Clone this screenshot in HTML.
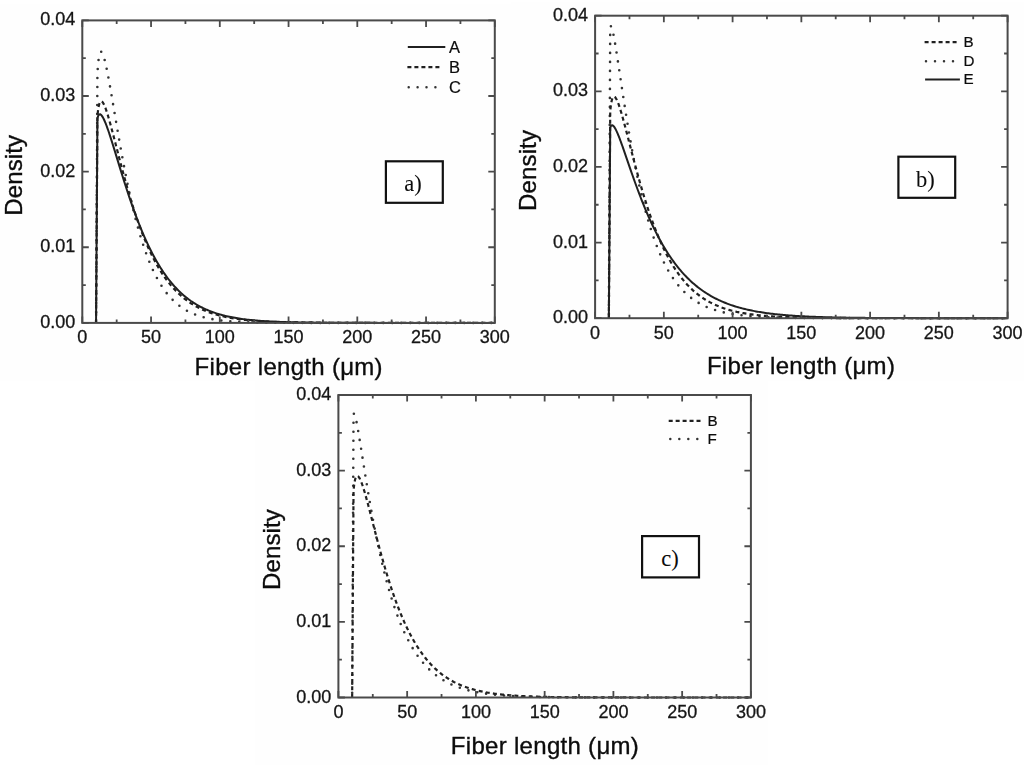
<!DOCTYPE html>
<html><head><meta charset="utf-8"><style>
html,body{margin:0;padding:0;background:#fff;}
svg{display:block;filter:blur(0.35px);}
text{font-family:"Liberation Sans",sans-serif;fill:#0c0c0c;stroke:#0c0c0c;stroke-width:0.35px;}
.tl{font-size:18px;fill:#151515;stroke:#151515;stroke-width:0.3px;}
.tt{font-size:24px;}
.tt2{font-size:24px;}
.bt{font-family:"Liberation Serif",serif;font-size:22.5px;stroke-width:0.05px;}
</style></head><body>
<svg width="1024" height="765" viewBox="0 0 1024 765">
<rect x="0" y="4" width="511" height="377" fill="#fefefe"/>
<rect x="511" y="2" width="513" height="379" fill="#fefefe"/>
<rect x="255" y="381" width="513" height="384" fill="#fefefe"/>
<path d="M 96.05,322.90 L 97.42,73.49 L 97.77,68.10 L 98.11,63.91 L 98.46,60.62 L 98.80,58.04 L 99.14,56.03 L 99.49,54.50 L 99.83,53.36 L 100.17,52.56 L 100.52,52.06 L 100.86,51.82 L 101.21,51.80 L 101.55,51.98 L 101.89,52.34 L 102.24,52.86 L 102.58,53.52 L 102.92,54.31 L 103.27,55.22 L 103.61,56.24 L 103.96,57.36 L 104.30,58.56 L 104.64,59.84 L 104.99,61.20 L 105.33,62.63 L 105.67,64.11 L 106.02,65.66 L 106.36,67.25 L 106.71,68.90 L 107.05,70.58 L 107.39,72.31 L 107.74,74.07 L 108.08,75.86 L 108.42,77.69 L 108.77,79.54 L 109.11,81.42 L 109.46,83.32 L 109.80,85.23 L 111.17,93.07 L 112.55,101.08 L 113.92,109.17 L 115.30,117.28 L 116.67,125.35 L 118.05,133.33 L 119.42,141.19 L 120.80,148.90 L 122.17,156.44 L 123.55,163.79 L 124.92,170.93 L 126.30,177.87 L 127.67,184.58 L 129.05,191.08 L 130.43,197.34 L 131.80,203.38 L 133.18,209.20 L 134.55,214.79 L 135.93,220.15 L 137.30,225.30 L 138.68,230.23 L 140.05,234.96 L 141.43,239.48 L 142.80,243.80 L 144.18,247.92 L 145.55,251.86 L 146.93,255.62 L 148.30,259.20 L 149.68,262.61 L 151.05,265.86 L 152.43,268.95 L 153.80,271.89 L 155.18,274.69 L 156.55,277.35 L 157.93,279.87 L 159.30,282.26 L 160.68,284.53 L 162.05,286.69 L 163.43,288.73 L 164.80,290.67 L 166.18,292.50 L 167.55,294.24 L 168.93,295.88 L 170.30,297.44 L 171.68,298.91 L 173.05,300.30 L 174.43,301.62 L 175.80,302.86 L 177.18,304.04 L 178.55,305.15 L 179.93,306.20 L 181.30,307.19 L 182.68,308.12 L 184.05,309.00 L 185.43,309.83 L 186.80,310.62 L 188.18,311.36 L 189.55,312.05 L 190.92,312.71 L 192.30,313.33 L 193.68,313.91 L 195.05,314.46 L 196.43,314.98 L 197.80,315.46 L 199.18,315.92 L 200.55,316.35 L 201.92,316.76 L 203.30,317.14 L 204.68,317.49 L 206.05,317.83 L 207.43,318.15 L 208.80,318.44 L 210.18,318.72 L 211.55,318.99 L 212.93,319.23 L 214.30,319.46 L 215.68,319.68 L 217.05,319.89 L 218.43,320.08 L 219.80,320.26 L 221.18,320.42 L 222.55,320.58 L 223.93,320.73 L 225.30,320.87 L 226.68,321.00 L 228.05,321.12 L 229.43,321.24 L 230.80,321.35 L 232.18,321.45 L 233.55,321.54 L 234.93,321.63 L 236.30,321.71 L 237.68,321.79 L 239.05,321.86 L 240.43,321.93 L 241.80,321.99 L 243.18,322.05 L 244.55,322.11 L 245.93,322.16 L 247.30,322.21 L 248.68,322.25 L 250.05,322.30 L 251.43,322.34 L 252.80,322.37 L 254.18,322.41 L 255.55,322.44 L 256.93,322.47 L 258.30,322.50 L 259.68,322.53 L 261.05,322.55 L 262.43,322.58 L 263.80,322.60 L 265.18,322.62 L 266.55,322.64 L 267.93,322.66 L 269.30,322.67 L 270.68,322.69 L 272.05,322.70 L 273.43,322.71 L 274.80,322.73 L 276.18,322.74 L 277.55,322.75 L 278.93,322.76 L 280.30,322.77 L 281.68,322.78 L 283.05,322.79 L 284.43,322.79 L 285.80,322.80 L 287.18,322.81 L 288.55,322.82 L 289.93,322.82 L 291.30,322.83 L 292.68,322.83 L 294.05,322.84 L 295.43,322.84 L 296.80,322.84 L 298.18,322.85 L 299.55,322.85 L 300.93,322.86 L 302.30,322.86 L 303.67,322.86 L 305.05,322.86 L 306.43,322.87 L 307.80,322.87 L 309.18,322.87 L 310.55,322.87 L 311.93,322.88 L 313.30,322.88 L 314.68,322.88 L 316.05,322.88 L 317.42,322.88 L 318.80,322.88 L 320.18,322.88 L 321.55,322.89 L 322.93,322.89 L 324.30,322.89 L 325.68,322.89 L 327.05,322.89 L 328.43,322.89 L 329.80,322.89 L 331.18,322.89 L 332.55,322.89 L 333.93,322.89 L 335.30,322.89 L 336.68,322.89 L 338.05,322.89 L 339.43,322.89 L 340.80,322.89 L 342.18,322.90 L 343.55,322.90 L 344.93,322.90 L 346.30,322.90 L 347.68,322.90 L 349.05,322.90 L 350.43,322.90 L 351.80,322.90 L 353.18,322.90 L 354.55,322.90 L 355.93,322.90 L 357.30,322.90 L 358.68,322.90 L 360.05,322.90 L 361.43,322.90 L 362.80,322.90 L 364.18,322.90 L 365.55,322.90 L 366.93,322.90 L 368.30,322.90 L 369.68,322.90 L 371.05,322.90 L 372.43,322.90 L 373.80,322.90 L 375.18,322.90 L 376.55,322.90 L 377.93,322.90 L 379.30,322.90 L 380.68,322.90 L 382.05,322.90 L 383.43,322.90 L 384.80,322.90 L 386.18,322.90 L 387.55,322.90 L 388.93,322.90 L 390.30,322.90 L 391.68,322.90 L 393.05,322.90 L 394.43,322.90 L 395.80,322.90 L 397.18,322.90 L 398.55,322.90 L 399.93,322.90 L 401.30,322.90 L 402.68,322.90 L 404.05,322.90 L 405.43,322.90 L 406.80,322.90 L 408.18,322.90 L 409.55,322.90 L 410.93,322.90 L 412.30,322.90 L 413.68,322.90 L 415.05,322.90 L 416.43,322.90 L 417.80,322.90 L 419.18,322.90 L 420.55,322.90 L 421.93,322.90 L 423.30,322.90 L 424.68,322.90 L 426.05,322.90 L 427.43,322.90 L 428.80,322.90 L 430.18,322.90 L 431.55,322.90 L 432.93,322.90 L 434.30,322.90 L 435.68,322.90 L 437.05,322.90 L 438.43,322.90 L 439.80,322.90 L 441.18,322.90 L 442.55,322.90 L 443.93,322.90 L 445.30,322.90 L 446.68,322.90 L 448.05,322.90 L 449.43,322.90 L 450.80,322.90 L 452.18,322.90 L 453.55,322.90 L 454.93,322.90 L 456.30,322.90 L 457.68,322.90 L 459.05,322.90 L 460.43,322.90 L 461.80,322.90 L 463.18,322.90 L 464.55,322.90 L 465.93,322.90 L 467.30,322.90 L 468.68,322.90 L 470.05,322.90 L 471.43,322.90 L 472.80,322.90 L 474.18,322.90 L 475.55,322.90 L 476.93,322.90 L 478.30,322.90 L 479.68,322.90 L 481.05,322.90 L 482.43,322.90 L 483.80,322.90 L 485.18,322.90 L 486.55,322.90 L 487.93,322.90 L 489.30,322.90 L 490.68,322.90 L 492.05,322.90 L 493.43,322.90 L 494.80,322.90" fill="none" stroke="#333" stroke-width="2.6" stroke-dasharray="0 9" stroke-linecap="round" stroke-dashoffset="-1.97"/>
<path d="M 96.05,322.90 L 97.42,116.62 L 97.77,112.85 L 98.11,109.94 L 98.46,107.67 L 98.80,105.88 L 99.14,104.48 L 99.49,103.40 L 99.83,102.59 L 100.17,102.01 L 100.52,101.62 L 100.86,101.40 L 101.21,101.33 L 101.55,101.40 L 101.89,101.58 L 102.24,101.86 L 102.58,102.24 L 102.92,102.71 L 103.27,103.25 L 103.61,103.86 L 103.96,104.53 L 104.30,105.27 L 104.64,106.05 L 104.99,106.89 L 105.33,107.77 L 105.67,108.69 L 106.02,109.65 L 106.36,110.64 L 106.71,111.67 L 107.05,112.72 L 107.39,113.81 L 107.74,114.91 L 108.08,116.05 L 108.42,117.20 L 108.77,118.37 L 109.11,119.56 L 109.46,120.77 L 109.80,121.99 L 111.17,127.01 L 112.55,132.18 L 113.92,137.45 L 115.30,142.78 L 116.67,148.13 L 118.05,153.46 L 119.42,158.77 L 120.80,164.03 L 122.17,169.22 L 123.55,174.34 L 124.92,179.36 L 126.30,184.30 L 127.67,189.12 L 129.05,193.84 L 130.43,198.45 L 131.80,202.95 L 133.18,207.32 L 134.55,211.58 L 135.93,215.72 L 137.30,219.74 L 138.68,223.64 L 140.05,227.42 L 141.43,231.09 L 142.80,234.64 L 144.18,238.08 L 145.55,241.40 L 146.93,244.61 L 148.30,247.72 L 149.68,250.72 L 151.05,253.61 L 152.43,256.41 L 153.80,259.10 L 155.18,261.70 L 156.55,264.20 L 157.93,266.62 L 159.30,268.94 L 160.68,271.18 L 162.05,273.33 L 163.43,275.40 L 164.80,277.39 L 166.18,279.31 L 167.55,281.15 L 168.93,282.93 L 170.30,284.63 L 171.68,286.26 L 173.05,287.83 L 174.43,289.34 L 175.80,290.79 L 177.18,292.18 L 178.55,293.51 L 179.93,294.79 L 181.30,296.02 L 182.68,297.20 L 184.05,298.33 L 185.43,299.41 L 186.80,300.45 L 188.18,301.44 L 189.55,302.39 L 190.92,303.30 L 192.30,304.18 L 193.68,305.02 L 195.05,305.82 L 196.43,306.58 L 197.80,307.32 L 199.18,308.02 L 200.55,308.69 L 201.92,309.34 L 203.30,309.95 L 204.68,310.54 L 206.05,311.11 L 207.43,311.65 L 208.80,312.16 L 210.18,312.65 L 211.55,313.13 L 212.93,313.58 L 214.30,314.01 L 215.68,314.42 L 217.05,314.81 L 218.43,315.18 L 219.80,315.54 L 221.18,315.89 L 222.55,316.21 L 223.93,316.53 L 225.30,316.82 L 226.68,317.11 L 228.05,317.38 L 229.43,317.64 L 230.80,317.89 L 232.18,318.12 L 233.55,318.35 L 234.93,318.57 L 236.30,318.77 L 237.68,318.97 L 239.05,319.15 L 240.43,319.33 L 241.80,319.50 L 243.18,319.66 L 244.55,319.82 L 245.93,319.97 L 247.30,320.11 L 248.68,320.24 L 250.05,320.37 L 251.43,320.49 L 252.80,320.61 L 254.18,320.72 L 255.55,320.82 L 256.93,320.92 L 258.30,321.02 L 259.68,321.11 L 261.05,321.20 L 262.43,321.28 L 263.80,321.36 L 265.18,321.43 L 266.55,321.51 L 267.93,321.57 L 269.30,321.64 L 270.68,321.70 L 272.05,321.76 L 273.43,321.82 L 274.80,321.87 L 276.18,321.92 L 277.55,321.97 L 278.93,322.01 L 280.30,322.06 L 281.68,322.10 L 283.05,322.14 L 284.43,322.18 L 285.80,322.21 L 287.18,322.25 L 288.55,322.28 L 289.93,322.31 L 291.30,322.34 L 292.68,322.37 L 294.05,322.39 L 295.43,322.42 L 296.80,322.44 L 298.18,322.47 L 299.55,322.49 L 300.93,322.51 L 302.30,322.53 L 303.67,322.55 L 305.05,322.56 L 306.43,322.58 L 307.80,322.60 L 309.18,322.61 L 310.55,322.63 L 311.93,322.64 L 313.30,322.65 L 314.68,322.67 L 316.05,322.68 L 317.42,322.69 L 318.80,322.70 L 320.18,322.71 L 321.55,322.72 L 322.93,322.73 L 324.30,322.74 L 325.68,322.75 L 327.05,322.75 L 328.43,322.76 L 329.80,322.77 L 331.18,322.78 L 332.55,322.78 L 333.93,322.79 L 335.30,322.79 L 336.68,322.80 L 338.05,322.80 L 339.43,322.81 L 340.80,322.81 L 342.18,322.82 L 343.55,322.82 L 344.93,322.83 L 346.30,322.83 L 347.68,322.83 L 349.05,322.84 L 350.43,322.84 L 351.80,322.84 L 353.18,322.85 L 354.55,322.85 L 355.93,322.85 L 357.30,322.85 L 358.68,322.86 L 360.05,322.86 L 361.43,322.86 L 362.80,322.86 L 364.18,322.87 L 365.55,322.87 L 366.93,322.87 L 368.30,322.87 L 369.68,322.87 L 371.05,322.87 L 372.43,322.87 L 373.80,322.88 L 375.18,322.88 L 376.55,322.88 L 377.93,322.88 L 379.30,322.88 L 380.68,322.88 L 382.05,322.88 L 383.43,322.88 L 384.80,322.88 L 386.18,322.89 L 387.55,322.89 L 388.93,322.89 L 390.30,322.89 L 391.68,322.89 L 393.05,322.89 L 394.43,322.89 L 395.80,322.89 L 397.18,322.89 L 398.55,322.89 L 399.93,322.89 L 401.30,322.89 L 402.68,322.89 L 404.05,322.89 L 405.43,322.89 L 406.80,322.89 L 408.18,322.89 L 409.55,322.89 L 410.93,322.89 L 412.30,322.89 L 413.68,322.90 L 415.05,322.90 L 416.43,322.90 L 417.80,322.90 L 419.18,322.90 L 420.55,322.90 L 421.93,322.90 L 423.30,322.90 L 424.68,322.90 L 426.05,322.90 L 427.43,322.90 L 428.80,322.90 L 430.18,322.90 L 431.55,322.90 L 432.93,322.90 L 434.30,322.90 L 435.68,322.90 L 437.05,322.90 L 438.43,322.90 L 439.80,322.90 L 441.18,322.90 L 442.55,322.90 L 443.93,322.90 L 445.30,322.90 L 446.68,322.90 L 448.05,322.90 L 449.43,322.90 L 450.80,322.90 L 452.18,322.90 L 453.55,322.90 L 454.93,322.90 L 456.30,322.90 L 457.68,322.90 L 459.05,322.90 L 460.43,322.90 L 461.80,322.90 L 463.18,322.90 L 464.55,322.90 L 465.93,322.90 L 467.30,322.90 L 468.68,322.90 L 470.05,322.90 L 471.43,322.90 L 472.80,322.90 L 474.18,322.90 L 475.55,322.90 L 476.93,322.90 L 478.30,322.90 L 479.68,322.90 L 481.05,322.90 L 482.43,322.90 L 483.80,322.90 L 485.18,322.90 L 486.55,322.90 L 487.93,322.90 L 489.30,322.90 L 490.68,322.90 L 492.05,322.90 L 493.43,322.90 L 494.80,322.90" fill="none" stroke="#202020" stroke-width="2.2" stroke-dasharray="4 3.2"/>
<path d="M 96.05,322.90 L 97.42,118.58 L 97.77,117.21 L 98.11,116.19 L 98.46,115.44 L 98.80,114.91 L 99.14,114.56 L 99.49,114.36 L 99.83,114.29 L 100.17,114.34 L 100.52,114.48 L 100.86,114.71 L 101.21,115.02 L 101.55,115.40 L 101.89,115.83 L 102.24,116.33 L 102.58,116.88 L 102.92,117.47 L 103.27,118.10 L 103.61,118.78 L 103.96,119.49 L 104.30,120.23 L 104.64,121.01 L 104.99,121.81 L 105.33,122.64 L 105.67,123.49 L 106.02,124.37 L 106.36,125.27 L 106.71,126.18 L 107.05,127.12 L 107.39,128.07 L 107.74,129.04 L 108.08,130.02 L 108.42,131.01 L 108.77,132.02 L 109.11,133.04 L 109.46,134.07 L 109.80,135.11 L 111.17,139.36 L 112.55,143.72 L 113.92,148.15 L 115.30,152.62 L 116.67,157.12 L 118.05,161.63 L 119.42,166.12 L 120.80,170.59 L 122.17,175.03 L 123.55,179.41 L 124.92,183.75 L 126.30,188.02 L 127.67,192.22 L 129.05,196.35 L 130.43,200.41 L 131.80,204.39 L 133.18,208.28 L 134.55,212.09 L 135.93,215.82 L 137.30,219.46 L 138.68,223.00 L 140.05,226.46 L 141.43,229.83 L 142.80,233.12 L 144.18,236.31 L 145.55,239.41 L 146.93,242.43 L 148.30,245.36 L 149.68,248.20 L 151.05,250.96 L 152.43,253.64 L 153.80,256.23 L 155.18,258.74 L 156.55,261.18 L 157.93,263.53 L 159.30,265.81 L 160.68,268.01 L 162.05,270.14 L 163.43,272.20 L 164.80,274.19 L 166.18,276.11 L 167.55,277.97 L 168.93,279.76 L 170.30,281.49 L 171.68,283.15 L 173.05,284.76 L 174.43,286.31 L 175.80,287.80 L 177.18,289.24 L 178.55,290.62 L 179.93,291.96 L 181.30,293.24 L 182.68,294.47 L 184.05,295.66 L 185.43,296.81 L 186.80,297.91 L 188.18,298.96 L 189.55,299.98 L 190.92,300.96 L 192.30,301.90 L 193.68,302.80 L 195.05,303.66 L 196.43,304.49 L 197.80,305.29 L 199.18,306.06 L 200.55,306.79 L 201.92,307.50 L 203.30,308.18 L 204.68,308.82 L 206.05,309.45 L 207.43,310.04 L 208.80,310.61 L 210.18,311.16 L 211.55,311.69 L 212.93,312.19 L 214.30,312.67 L 215.68,313.13 L 217.05,313.58 L 218.43,314.00 L 219.80,314.40 L 221.18,314.79 L 222.55,315.16 L 223.93,315.52 L 225.30,315.86 L 226.68,316.18 L 228.05,316.49 L 229.43,316.79 L 230.80,317.07 L 232.18,317.34 L 233.55,317.60 L 234.93,317.85 L 236.30,318.09 L 237.68,318.31 L 239.05,318.53 L 240.43,318.73 L 241.80,318.93 L 243.18,319.12 L 244.55,319.30 L 245.93,319.47 L 247.30,319.63 L 248.68,319.79 L 250.05,319.94 L 251.43,320.08 L 252.80,320.22 L 254.18,320.35 L 255.55,320.47 L 256.93,320.59 L 258.30,320.70 L 259.68,320.81 L 261.05,320.91 L 262.43,321.01 L 263.80,321.10 L 265.18,321.19 L 266.55,321.27 L 267.93,321.35 L 269.30,321.43 L 270.68,321.50 L 272.05,321.57 L 273.43,321.63 L 274.80,321.70 L 276.18,321.76 L 277.55,321.81 L 278.93,321.87 L 280.30,321.92 L 281.68,321.97 L 283.05,322.02 L 284.43,322.06 L 285.80,322.10 L 287.18,322.14 L 288.55,322.18 L 289.93,322.22 L 291.30,322.25 L 292.68,322.28 L 294.05,322.32 L 295.43,322.35 L 296.80,322.37 L 298.18,322.40 L 299.55,322.43 L 300.93,322.45 L 302.30,322.47 L 303.67,322.50 L 305.05,322.52 L 306.43,322.54 L 307.80,322.55 L 309.18,322.57 L 310.55,322.59 L 311.93,322.61 L 313.30,322.62 L 314.68,322.64 L 316.05,322.65 L 317.42,322.66 L 318.80,322.67 L 320.18,322.69 L 321.55,322.70 L 322.93,322.71 L 324.30,322.72 L 325.68,322.73 L 327.05,322.74 L 328.43,322.75 L 329.80,322.75 L 331.18,322.76 L 332.55,322.77 L 333.93,322.78 L 335.30,322.78 L 336.68,322.79 L 338.05,322.79 L 339.43,322.80 L 340.80,322.81 L 342.18,322.81 L 343.55,322.82 L 344.93,322.82 L 346.30,322.82 L 347.68,322.83 L 349.05,322.83 L 350.43,322.84 L 351.80,322.84 L 353.18,322.84 L 354.55,322.85 L 355.93,322.85 L 357.30,322.85 L 358.68,322.85 L 360.05,322.86 L 361.43,322.86 L 362.80,322.86 L 364.18,322.86 L 365.55,322.87 L 366.93,322.87 L 368.30,322.87 L 369.68,322.87 L 371.05,322.87 L 372.43,322.87 L 373.80,322.88 L 375.18,322.88 L 376.55,322.88 L 377.93,322.88 L 379.30,322.88 L 380.68,322.88 L 382.05,322.88 L 383.43,322.88 L 384.80,322.88 L 386.18,322.89 L 387.55,322.89 L 388.93,322.89 L 390.30,322.89 L 391.68,322.89 L 393.05,322.89 L 394.43,322.89 L 395.80,322.89 L 397.18,322.89 L 398.55,322.89 L 399.93,322.89 L 401.30,322.89 L 402.68,322.89 L 404.05,322.89 L 405.43,322.89 L 406.80,322.89 L 408.18,322.89 L 409.55,322.89 L 410.93,322.89 L 412.30,322.90 L 413.68,322.90 L 415.05,322.90 L 416.43,322.90 L 417.80,322.90 L 419.18,322.90 L 420.55,322.90 L 421.93,322.90 L 423.30,322.90 L 424.68,322.90 L 426.05,322.90 L 427.43,322.90 L 428.80,322.90 L 430.18,322.90 L 431.55,322.90 L 432.93,322.90 L 434.30,322.90 L 435.68,322.90 L 437.05,322.90 L 438.43,322.90 L 439.80,322.90 L 441.18,322.90 L 442.55,322.90 L 443.93,322.90 L 445.30,322.90 L 446.68,322.90 L 448.05,322.90 L 449.43,322.90 L 450.80,322.90 L 452.18,322.90 L 453.55,322.90 L 454.93,322.90 L 456.30,322.90 L 457.68,322.90 L 459.05,322.90 L 460.43,322.90 L 461.80,322.90 L 463.18,322.90 L 464.55,322.90 L 465.93,322.90 L 467.30,322.90 L 468.68,322.90 L 470.05,322.90 L 471.43,322.90 L 472.80,322.90 L 474.18,322.90 L 475.55,322.90 L 476.93,322.90 L 478.30,322.90 L 479.68,322.90 L 481.05,322.90 L 482.43,322.90 L 483.80,322.90 L 485.18,322.90 L 486.55,322.90 L 487.93,322.90 L 489.30,322.90 L 490.68,322.90 L 492.05,322.90 L 493.43,322.90 L 494.80,322.90" fill="none" stroke="#202020" stroke-width="2"/>
<path d="M82.30,322.90v-6.5M82.30,20.40v6.5M116.67,322.90v-3.5M116.67,20.40v3.5M151.05,322.90v-6.5M151.05,20.40v6.5M185.43,322.90v-3.5M185.43,20.40v3.5M219.80,322.90v-6.5M219.80,20.40v6.5M254.18,322.90v-3.5M254.18,20.40v3.5M288.55,322.90v-6.5M288.55,20.40v6.5M322.93,322.90v-3.5M322.93,20.40v3.5M357.30,322.90v-6.5M357.30,20.40v6.5M391.68,322.90v-3.5M391.68,20.40v3.5M426.05,322.90v-6.5M426.05,20.40v6.5M460.43,322.90v-3.5M460.43,20.40v3.5M494.80,322.90v-6.5M494.80,20.40v6.5M82.30,322.90h6.5M494.80,322.90h-6.5M82.30,285.09h3.5M494.80,285.09h-3.5M82.30,247.27h6.5M494.80,247.27h-6.5M82.30,209.46h3.5M494.80,209.46h-3.5M82.30,171.65h6.5M494.80,171.65h-6.5M82.30,133.84h3.5M494.80,133.84h-3.5M82.30,96.02h6.5M494.80,96.02h-6.5M82.30,58.21h3.5M494.80,58.21h-3.5M82.30,20.40h6.5M494.80,20.40h-6.5" stroke="#4a4a4a" stroke-width="1.8" fill="none"/>
<rect x="82.30" y="20.40" width="412.50" height="302.50" fill="none" stroke="#4a4a4a" stroke-width="2"/>
<text x="75.30" y="327.90" class="tl" text-anchor="end">0.00</text>
<text x="75.30" y="252.27" class="tl" text-anchor="end">0.01</text>
<text x="75.30" y="176.65" class="tl" text-anchor="end">0.02</text>
<text x="75.30" y="101.02" class="tl" text-anchor="end">0.03</text>
<text x="75.30" y="25.40" class="tl" text-anchor="end">0.04</text>
<text x="82.30" y="343.40" class="tl" text-anchor="middle">0</text>
<text x="151.05" y="343.40" class="tl" text-anchor="middle">50</text>
<text x="219.80" y="343.40" class="tl" text-anchor="middle">100</text>
<text x="288.55" y="343.40" class="tl" text-anchor="middle">150</text>
<text x="357.30" y="343.40" class="tl" text-anchor="middle">200</text>
<text x="426.05" y="343.40" class="tl" text-anchor="middle">250</text>
<text x="494.80" y="343.40" class="tl" text-anchor="middle">300</text>
<path d="M407.80,46.90H445.30" stroke="#202020" stroke-width="2"/>
<text x="449.00" y="52.50" style="font-size:16.5px;stroke-width:0.2px">A</text>
<path d="M407.40,67.10H439.40" stroke="#202020" stroke-width="2.2" stroke-dasharray="4 3.00"/>
<text x="449.00" y="72.70" style="font-size:16.5px;stroke-width:0.2px">B</text>
<path d="M408.70,87.20H435.41" stroke="#333" stroke-width="2.5" stroke-dasharray="0 8.9" stroke-linecap="round"/>
<text x="449.00" y="92.80" style="font-size:16.5px;stroke-width:0.2px">C</text>
<text x="288.60" y="375.00" class="tt" text-anchor="middle" textLength="188.0" lengthAdjust="spacing">Fiber length (μm)</text>
<text transform="translate(21.80,175.30) rotate(-90)" class="tt2" text-anchor="middle" textLength="80.8" lengthAdjust="spacing">Density</text>
<rect x="385.9" y="161.3" width="56.9" height="41.5" fill="#fff" stroke="#111" stroke-width="2.2"/>
<text x="413.0" y="190.9" class="bt" text-anchor="middle">a)</text>
<path d="M 608.85,318.20 L 610.22,26.95 L 610.57,26.32 L 610.91,26.25 L 611.26,26.61 L 611.60,27.31 L 611.94,28.26 L 612.29,29.43 L 612.63,30.77 L 612.97,32.27 L 613.32,33.88 L 613.66,35.60 L 614.01,37.41 L 614.35,39.30 L 614.69,41.25 L 615.04,43.26 L 615.38,45.32 L 615.72,47.43 L 616.07,49.56 L 616.41,51.73 L 616.76,53.93 L 617.10,56.14 L 617.44,58.38 L 617.79,60.63 L 618.13,62.89 L 618.47,65.17 L 618.82,67.45 L 619.16,69.73 L 619.51,72.03 L 619.85,74.32 L 620.19,76.61 L 620.54,78.90 L 620.88,81.19 L 621.22,83.47 L 621.57,85.75 L 621.91,88.02 L 622.26,90.29 L 622.60,92.55 L 623.97,101.49 L 625.35,110.26 L 626.72,118.82 L 628.10,127.15 L 629.47,135.25 L 630.85,143.09 L 632.22,150.67 L 633.60,158.00 L 634.97,165.07 L 636.35,171.88 L 637.72,178.44 L 639.10,184.75 L 640.47,190.80 L 641.85,196.62 L 643.22,202.21 L 644.60,207.56 L 645.97,212.70 L 647.35,217.61 L 648.72,222.32 L 650.10,226.83 L 651.47,231.14 L 652.85,235.27 L 654.22,239.21 L 655.60,242.98 L 656.97,246.58 L 658.35,250.02 L 659.72,253.31 L 661.10,256.44 L 662.47,259.43 L 663.85,262.29 L 665.22,265.01 L 666.60,267.61 L 667.97,270.09 L 669.35,272.45 L 670.72,274.70 L 672.10,276.84 L 673.47,278.89 L 674.85,280.83 L 676.22,282.69 L 677.60,284.45 L 678.97,286.14 L 680.35,287.74 L 681.72,289.26 L 683.10,290.71 L 684.47,292.09 L 685.85,293.40 L 687.22,294.65 L 688.60,295.84 L 689.97,296.97 L 691.35,298.04 L 692.72,299.06 L 694.10,300.03 L 695.47,300.96 L 696.85,301.84 L 698.22,302.67 L 699.60,303.46 L 700.97,304.22 L 702.35,304.93 L 703.72,305.61 L 705.10,306.26 L 706.47,306.87 L 707.85,307.45 L 709.22,308.01 L 710.60,308.53 L 711.97,309.03 L 713.35,309.51 L 714.72,309.96 L 716.10,310.38 L 717.47,310.79 L 718.85,311.17 L 720.22,311.54 L 721.60,311.89 L 722.97,312.21 L 724.35,312.53 L 725.72,312.82 L 727.10,313.10 L 728.47,313.37 L 729.85,313.62 L 731.22,313.86 L 732.60,314.09 L 733.97,314.31 L 735.35,314.51 L 736.72,314.70 L 738.10,314.89 L 739.47,315.06 L 740.85,315.23 L 742.22,315.39 L 743.60,315.53 L 744.97,315.68 L 746.35,315.81 L 747.72,315.94 L 749.10,316.06 L 750.47,316.17 L 751.85,316.28 L 753.22,316.38 L 754.60,316.48 L 755.97,316.57 L 757.35,316.65 L 758.72,316.74 L 760.10,316.82 L 761.47,316.89 L 762.85,316.96 L 764.22,317.03 L 765.60,317.09 L 766.97,317.15 L 768.35,317.20 L 769.72,317.26 L 771.10,317.31 L 772.47,317.36 L 773.85,317.40 L 775.22,317.44 L 776.60,317.48 L 777.97,317.52 L 779.35,317.56 L 780.72,317.59 L 782.10,317.63 L 783.47,317.66 L 784.85,317.69 L 786.22,317.71 L 787.60,317.74 L 788.97,317.77 L 790.35,317.79 L 791.72,317.81 L 793.10,317.83 L 794.47,317.85 L 795.85,317.87 L 797.22,317.89 L 798.60,317.91 L 799.97,317.92 L 801.35,317.94 L 802.72,317.95 L 804.10,317.97 L 805.47,317.98 L 806.85,317.99 L 808.22,318.00 L 809.60,318.01 L 810.97,318.02 L 812.35,318.03 L 813.72,318.04 L 815.10,318.05 L 816.47,318.06 L 817.85,318.07 L 819.22,318.07 L 820.60,318.08 L 821.97,318.09 L 823.35,318.09 L 824.72,318.10 L 826.10,318.10 L 827.47,318.11 L 828.85,318.11 L 830.22,318.12 L 831.60,318.12 L 832.97,318.13 L 834.35,318.13 L 835.72,318.14 L 837.10,318.14 L 838.47,318.14 L 839.85,318.15 L 841.22,318.15 L 842.60,318.15 L 843.97,318.15 L 845.35,318.16 L 846.72,318.16 L 848.10,318.16 L 849.47,318.16 L 850.85,318.17 L 852.22,318.17 L 853.60,318.17 L 854.97,318.17 L 856.35,318.17 L 857.72,318.17 L 859.10,318.18 L 860.47,318.18 L 861.85,318.18 L 863.22,318.18 L 864.60,318.18 L 865.97,318.18 L 867.35,318.18 L 868.72,318.18 L 870.10,318.18 L 871.47,318.19 L 872.85,318.19 L 874.22,318.19 L 875.60,318.19 L 876.97,318.19 L 878.35,318.19 L 879.72,318.19 L 881.10,318.19 L 882.47,318.19 L 883.85,318.19 L 885.22,318.19 L 886.60,318.19 L 887.97,318.19 L 889.35,318.19 L 890.72,318.19 L 892.10,318.19 L 893.47,318.19 L 894.85,318.19 L 896.22,318.19 L 897.60,318.20 L 898.97,318.20 L 900.35,318.20 L 901.72,318.20 L 903.10,318.20 L 904.47,318.20 L 905.85,318.20 L 907.22,318.20 L 908.60,318.20 L 909.97,318.20 L 911.35,318.20 L 912.72,318.20 L 914.10,318.20 L 915.47,318.20 L 916.85,318.20 L 918.22,318.20 L 919.60,318.20 L 920.97,318.20 L 922.35,318.20 L 923.72,318.20 L 925.10,318.20 L 926.47,318.20 L 927.85,318.20 L 929.22,318.20 L 930.60,318.20 L 931.97,318.20 L 933.35,318.20 L 934.72,318.20 L 936.10,318.20 L 937.47,318.20 L 938.85,318.20 L 940.22,318.20 L 941.60,318.20 L 942.97,318.20 L 944.35,318.20 L 945.72,318.20 L 947.10,318.20 L 948.47,318.20 L 949.85,318.20 L 951.22,318.20 L 952.60,318.20 L 953.97,318.20 L 955.35,318.20 L 956.72,318.20 L 958.10,318.20 L 959.47,318.20 L 960.85,318.20 L 962.22,318.20 L 963.60,318.20 L 964.97,318.20 L 966.35,318.20 L 967.72,318.20 L 969.10,318.20 L 970.47,318.20 L 971.85,318.20 L 973.22,318.20 L 974.60,318.20 L 975.97,318.20 L 977.35,318.20 L 978.72,318.20 L 980.10,318.20 L 981.47,318.20 L 982.85,318.20 L 984.22,318.20 L 985.60,318.20 L 986.97,318.20 L 988.35,318.20 L 989.72,318.20 L 991.10,318.20 L 992.47,318.20 L 993.85,318.20 L 995.22,318.20 L 996.60,318.20 L 997.97,318.20 L 999.35,318.20 L 1000.72,318.20 L 1002.10,318.20 L 1003.47,318.20 L 1004.85,318.20 L 1006.22,318.20 L 1007.60,318.20" fill="none" stroke="#333" stroke-width="2.6" stroke-dasharray="0 9" stroke-linecap="round" stroke-dashoffset="-4.32"/>
<path d="M 608.85,318.20 L 610.22,111.92 L 610.57,108.15 L 610.91,105.24 L 611.26,102.97 L 611.60,101.18 L 611.94,99.78 L 612.29,98.70 L 612.63,97.89 L 612.97,97.31 L 613.32,96.92 L 613.66,96.70 L 614.01,96.63 L 614.35,96.70 L 614.69,96.88 L 615.04,97.16 L 615.38,97.54 L 615.72,98.01 L 616.07,98.55 L 616.41,99.16 L 616.76,99.83 L 617.10,100.57 L 617.44,101.35 L 617.79,102.19 L 618.13,103.07 L 618.47,103.99 L 618.82,104.95 L 619.16,105.94 L 619.51,106.97 L 619.85,108.02 L 620.19,109.11 L 620.54,110.21 L 620.88,111.35 L 621.22,112.50 L 621.57,113.67 L 621.91,114.86 L 622.26,116.07 L 622.60,117.29 L 623.97,122.31 L 625.35,127.48 L 626.72,132.75 L 628.10,138.08 L 629.47,143.43 L 630.85,148.76 L 632.22,154.07 L 633.60,159.33 L 634.97,164.52 L 636.35,169.64 L 637.72,174.66 L 639.10,179.60 L 640.47,184.42 L 641.85,189.14 L 643.22,193.75 L 644.60,198.25 L 645.97,202.62 L 647.35,206.88 L 648.72,211.02 L 650.10,215.04 L 651.47,218.94 L 652.85,222.72 L 654.22,226.39 L 655.60,229.94 L 656.97,233.38 L 658.35,236.70 L 659.72,239.91 L 661.10,243.02 L 662.47,246.02 L 663.85,248.91 L 665.22,251.71 L 666.60,254.40 L 667.97,257.00 L 669.35,259.50 L 670.72,261.92 L 672.10,264.24 L 673.47,266.48 L 674.85,268.63 L 676.22,270.70 L 677.60,272.69 L 678.97,274.61 L 680.35,276.45 L 681.72,278.23 L 683.10,279.93 L 684.47,281.56 L 685.85,283.13 L 687.22,284.64 L 688.60,286.09 L 689.97,287.48 L 691.35,288.81 L 692.72,290.09 L 694.10,291.32 L 695.47,292.50 L 696.85,293.63 L 698.22,294.71 L 699.60,295.75 L 700.97,296.74 L 702.35,297.69 L 703.72,298.60 L 705.10,299.48 L 706.47,300.32 L 707.85,301.12 L 709.22,301.88 L 710.60,302.62 L 711.97,303.32 L 713.35,303.99 L 714.72,304.64 L 716.10,305.25 L 717.47,305.84 L 718.85,306.41 L 720.22,306.95 L 721.60,307.46 L 722.97,307.95 L 724.35,308.43 L 725.72,308.88 L 727.10,309.31 L 728.47,309.72 L 729.85,310.11 L 731.22,310.48 L 732.60,310.84 L 733.97,311.19 L 735.35,311.51 L 736.72,311.83 L 738.10,312.12 L 739.47,312.41 L 740.85,312.68 L 742.22,312.94 L 743.60,313.19 L 744.97,313.42 L 746.35,313.65 L 747.72,313.87 L 749.10,314.07 L 750.47,314.27 L 751.85,314.45 L 753.22,314.63 L 754.60,314.80 L 755.97,314.96 L 757.35,315.12 L 758.72,315.27 L 760.10,315.41 L 761.47,315.54 L 762.85,315.67 L 764.22,315.79 L 765.60,315.91 L 766.97,316.02 L 768.35,316.12 L 769.72,316.22 L 771.10,316.32 L 772.47,316.41 L 773.85,316.50 L 775.22,316.58 L 776.60,316.66 L 777.97,316.73 L 779.35,316.81 L 780.72,316.87 L 782.10,316.94 L 783.47,317.00 L 784.85,317.06 L 786.22,317.12 L 787.60,317.17 L 788.97,317.22 L 790.35,317.27 L 791.72,317.31 L 793.10,317.36 L 794.47,317.40 L 795.85,317.44 L 797.22,317.48 L 798.60,317.51 L 799.97,317.55 L 801.35,317.58 L 802.72,317.61 L 804.10,317.64 L 805.47,317.67 L 806.85,317.69 L 808.22,317.72 L 809.60,317.74 L 810.97,317.77 L 812.35,317.79 L 813.72,317.81 L 815.10,317.83 L 816.47,317.85 L 817.85,317.86 L 819.22,317.88 L 820.60,317.90 L 821.97,317.91 L 823.35,317.93 L 824.72,317.94 L 826.10,317.95 L 827.47,317.97 L 828.85,317.98 L 830.22,317.99 L 831.60,318.00 L 832.97,318.01 L 834.35,318.02 L 835.72,318.03 L 837.10,318.04 L 838.47,318.05 L 839.85,318.05 L 841.22,318.06 L 842.60,318.07 L 843.97,318.08 L 845.35,318.08 L 846.72,318.09 L 848.10,318.09 L 849.47,318.10 L 850.85,318.10 L 852.22,318.11 L 853.60,318.11 L 854.97,318.12 L 856.35,318.12 L 857.72,318.13 L 859.10,318.13 L 860.47,318.13 L 861.85,318.14 L 863.22,318.14 L 864.60,318.14 L 865.97,318.15 L 867.35,318.15 L 868.72,318.15 L 870.10,318.15 L 871.47,318.16 L 872.85,318.16 L 874.22,318.16 L 875.60,318.16 L 876.97,318.17 L 878.35,318.17 L 879.72,318.17 L 881.10,318.17 L 882.47,318.17 L 883.85,318.17 L 885.22,318.17 L 886.60,318.18 L 887.97,318.18 L 889.35,318.18 L 890.72,318.18 L 892.10,318.18 L 893.47,318.18 L 894.85,318.18 L 896.22,318.18 L 897.60,318.18 L 898.97,318.19 L 900.35,318.19 L 901.72,318.19 L 903.10,318.19 L 904.47,318.19 L 905.85,318.19 L 907.22,318.19 L 908.60,318.19 L 909.97,318.19 L 911.35,318.19 L 912.72,318.19 L 914.10,318.19 L 915.47,318.19 L 916.85,318.19 L 918.22,318.19 L 919.60,318.19 L 920.97,318.19 L 922.35,318.19 L 923.72,318.19 L 925.10,318.19 L 926.47,318.20 L 927.85,318.20 L 929.22,318.20 L 930.60,318.20 L 931.97,318.20 L 933.35,318.20 L 934.72,318.20 L 936.10,318.20 L 937.47,318.20 L 938.85,318.20 L 940.22,318.20 L 941.60,318.20 L 942.97,318.20 L 944.35,318.20 L 945.72,318.20 L 947.10,318.20 L 948.47,318.20 L 949.85,318.20 L 951.22,318.20 L 952.60,318.20 L 953.97,318.20 L 955.35,318.20 L 956.72,318.20 L 958.10,318.20 L 959.47,318.20 L 960.85,318.20 L 962.22,318.20 L 963.60,318.20 L 964.97,318.20 L 966.35,318.20 L 967.72,318.20 L 969.10,318.20 L 970.47,318.20 L 971.85,318.20 L 973.22,318.20 L 974.60,318.20 L 975.97,318.20 L 977.35,318.20 L 978.72,318.20 L 980.10,318.20 L 981.47,318.20 L 982.85,318.20 L 984.22,318.20 L 985.60,318.20 L 986.97,318.20 L 988.35,318.20 L 989.72,318.20 L 991.10,318.20 L 992.47,318.20 L 993.85,318.20 L 995.22,318.20 L 996.60,318.20 L 997.97,318.20 L 999.35,318.20 L 1000.72,318.20 L 1002.10,318.20 L 1003.47,318.20 L 1004.85,318.20 L 1006.22,318.20 L 1007.60,318.20" fill="none" stroke="#202020" stroke-width="2.2" stroke-dasharray="4 3.2"/>
<path d="M 608.85,318.20 L 610.22,127.64 L 610.57,126.73 L 610.91,126.09 L 611.26,125.65 L 611.60,125.39 L 611.94,125.27 L 612.29,125.27 L 612.63,125.38 L 612.97,125.58 L 613.32,125.87 L 613.66,126.22 L 614.01,126.64 L 614.35,127.11 L 614.69,127.63 L 615.04,128.20 L 615.38,128.81 L 615.72,129.45 L 616.07,130.13 L 616.41,130.84 L 616.76,131.58 L 617.10,132.34 L 617.44,133.13 L 617.79,133.94 L 618.13,134.76 L 618.47,135.61 L 618.82,136.47 L 619.16,137.35 L 619.51,138.24 L 619.85,139.14 L 620.19,140.05 L 620.54,140.98 L 620.88,141.91 L 621.22,142.85 L 621.57,143.80 L 621.91,144.76 L 622.26,145.72 L 622.60,146.69 L 623.97,150.62 L 625.35,154.59 L 626.72,158.60 L 628.10,162.60 L 629.47,166.60 L 630.85,170.57 L 632.22,174.51 L 633.60,178.40 L 634.97,182.24 L 636.35,186.03 L 637.72,189.75 L 639.10,193.41 L 640.47,196.99 L 641.85,200.51 L 643.22,203.96 L 644.60,207.33 L 645.97,210.63 L 647.35,213.85 L 648.72,217.00 L 650.10,220.07 L 651.47,223.07 L 652.85,225.99 L 654.22,228.83 L 655.60,231.61 L 656.97,234.31 L 658.35,236.94 L 659.72,239.50 L 661.10,241.98 L 662.47,244.40 L 663.85,246.76 L 665.22,249.04 L 666.60,251.26 L 667.97,253.42 L 669.35,255.52 L 670.72,257.55 L 672.10,259.52 L 673.47,261.44 L 674.85,263.30 L 676.22,265.10 L 677.60,266.85 L 678.97,268.55 L 680.35,270.20 L 681.72,271.79 L 683.10,273.34 L 684.47,274.83 L 685.85,276.29 L 687.22,277.69 L 688.60,279.05 L 689.97,280.37 L 691.35,281.65 L 692.72,282.89 L 694.10,284.09 L 695.47,285.25 L 696.85,286.37 L 698.22,287.45 L 699.60,288.51 L 700.97,289.52 L 702.35,290.51 L 703.72,291.46 L 705.10,292.38 L 706.47,293.27 L 707.85,294.13 L 709.22,294.97 L 710.60,295.77 L 711.97,296.55 L 713.35,297.30 L 714.72,298.03 L 716.10,298.74 L 717.47,299.42 L 718.85,300.07 L 720.22,300.71 L 721.60,301.32 L 722.97,301.92 L 724.35,302.49 L 725.72,303.04 L 727.10,303.58 L 728.47,304.10 L 729.85,304.60 L 731.22,305.08 L 732.60,305.54 L 733.97,305.99 L 735.35,306.43 L 736.72,306.85 L 738.10,307.25 L 739.47,307.64 L 740.85,308.02 L 742.22,308.39 L 743.60,308.74 L 744.97,309.08 L 746.35,309.40 L 747.72,309.72 L 749.10,310.03 L 750.47,310.32 L 751.85,310.60 L 753.22,310.88 L 754.60,311.14 L 755.97,311.40 L 757.35,311.65 L 758.72,311.88 L 760.10,312.11 L 761.47,312.33 L 762.85,312.55 L 764.22,312.75 L 765.60,312.95 L 766.97,313.14 L 768.35,313.33 L 769.72,313.51 L 771.10,313.68 L 772.47,313.84 L 773.85,314.00 L 775.22,314.16 L 776.60,314.30 L 777.97,314.45 L 779.35,314.59 L 780.72,314.72 L 782.10,314.85 L 783.47,314.97 L 784.85,315.09 L 786.22,315.20 L 787.60,315.31 L 788.97,315.42 L 790.35,315.52 L 791.72,315.62 L 793.10,315.72 L 794.47,315.81 L 795.85,315.90 L 797.22,315.99 L 798.60,316.07 L 799.97,316.15 L 801.35,316.22 L 802.72,316.30 L 804.10,316.37 L 805.47,316.44 L 806.85,316.50 L 808.22,316.57 L 809.60,316.63 L 810.97,316.69 L 812.35,316.74 L 813.72,316.80 L 815.10,316.85 L 816.47,316.90 L 817.85,316.95 L 819.22,317.00 L 820.60,317.04 L 821.97,317.08 L 823.35,317.13 L 824.72,317.17 L 826.10,317.21 L 827.47,317.24 L 828.85,317.28 L 830.22,317.31 L 831.60,317.35 L 832.97,317.38 L 834.35,317.41 L 835.72,317.44 L 837.10,317.47 L 838.47,317.50 L 839.85,317.52 L 841.22,317.55 L 842.60,317.57 L 843.97,317.60 L 845.35,317.62 L 846.72,317.64 L 848.10,317.66 L 849.47,317.68 L 850.85,317.70 L 852.22,317.72 L 853.60,317.74 L 854.97,317.76 L 856.35,317.78 L 857.72,317.79 L 859.10,317.81 L 860.47,317.82 L 861.85,317.84 L 863.22,317.85 L 864.60,317.86 L 865.97,317.88 L 867.35,317.89 L 868.72,317.90 L 870.10,317.91 L 871.47,317.92 L 872.85,317.93 L 874.22,317.94 L 875.60,317.95 L 876.97,317.96 L 878.35,317.97 L 879.72,317.98 L 881.10,317.99 L 882.47,318.00 L 883.85,318.01 L 885.22,318.01 L 886.60,318.02 L 887.97,318.03 L 889.35,318.03 L 890.72,318.04 L 892.10,318.05 L 893.47,318.05 L 894.85,318.06 L 896.22,318.06 L 897.60,318.07 L 898.97,318.07 L 900.35,318.08 L 901.72,318.08 L 903.10,318.09 L 904.47,318.09 L 905.85,318.10 L 907.22,318.10 L 908.60,318.10 L 909.97,318.11 L 911.35,318.11 L 912.72,318.12 L 914.10,318.12 L 915.47,318.12 L 916.85,318.13 L 918.22,318.13 L 919.60,318.13 L 920.97,318.13 L 922.35,318.14 L 923.72,318.14 L 925.10,318.14 L 926.47,318.14 L 927.85,318.15 L 929.22,318.15 L 930.60,318.15 L 931.97,318.15 L 933.35,318.15 L 934.72,318.16 L 936.10,318.16 L 937.47,318.16 L 938.85,318.16 L 940.22,318.16 L 941.60,318.16 L 942.97,318.16 L 944.35,318.17 L 945.72,318.17 L 947.10,318.17 L 948.47,318.17 L 949.85,318.17 L 951.22,318.17 L 952.60,318.17 L 953.97,318.17 L 955.35,318.18 L 956.72,318.18 L 958.10,318.18 L 959.47,318.18 L 960.85,318.18 L 962.22,318.18 L 963.60,318.18 L 964.97,318.18 L 966.35,318.18 L 967.72,318.18 L 969.10,318.18 L 970.47,318.18 L 971.85,318.18 L 973.22,318.19 L 974.60,318.19 L 975.97,318.19 L 977.35,318.19 L 978.72,318.19 L 980.10,318.19 L 981.47,318.19 L 982.85,318.19 L 984.22,318.19 L 985.60,318.19 L 986.97,318.19 L 988.35,318.19 L 989.72,318.19 L 991.10,318.19 L 992.47,318.19 L 993.85,318.19 L 995.22,318.19 L 996.60,318.19 L 997.97,318.19 L 999.35,318.19 L 1000.72,318.19 L 1002.10,318.19 L 1003.47,318.19 L 1004.85,318.19 L 1006.22,318.19 L 1007.60,318.19" fill="none" stroke="#202020" stroke-width="2"/>
<path d="M595.10,318.20v-6.5M595.10,15.70v6.5M629.47,318.20v-3.5M629.47,15.70v3.5M663.85,318.20v-6.5M663.85,15.70v6.5M698.22,318.20v-3.5M698.22,15.70v3.5M732.60,318.20v-6.5M732.60,15.70v6.5M766.97,318.20v-3.5M766.97,15.70v3.5M801.35,318.20v-6.5M801.35,15.70v6.5M835.72,318.20v-3.5M835.72,15.70v3.5M870.10,318.20v-6.5M870.10,15.70v6.5M904.47,318.20v-3.5M904.47,15.70v3.5M938.85,318.20v-6.5M938.85,15.70v6.5M973.22,318.20v-3.5M973.22,15.70v3.5M1007.60,318.20v-6.5M1007.60,15.70v6.5M595.10,318.20h6.5M1007.60,318.20h-6.5M595.10,280.39h3.5M1007.60,280.39h-3.5M595.10,242.57h6.5M1007.60,242.57h-6.5M595.10,204.76h3.5M1007.60,204.76h-3.5M595.10,166.95h6.5M1007.60,166.95h-6.5M595.10,129.14h3.5M1007.60,129.14h-3.5M595.10,91.32h6.5M1007.60,91.32h-6.5M595.10,53.51h3.5M1007.60,53.51h-3.5M595.10,15.70h6.5M1007.60,15.70h-6.5" stroke="#4a4a4a" stroke-width="1.8" fill="none"/>
<rect x="595.10" y="15.70" width="412.50" height="302.50" fill="none" stroke="#4a4a4a" stroke-width="2"/>
<text x="588.10" y="323.20" class="tl" text-anchor="end">0.00</text>
<text x="588.10" y="247.57" class="tl" text-anchor="end">0.01</text>
<text x="588.10" y="171.95" class="tl" text-anchor="end">0.02</text>
<text x="588.10" y="96.32" class="tl" text-anchor="end">0.03</text>
<text x="588.10" y="20.70" class="tl" text-anchor="end">0.04</text>
<text x="595.10" y="338.70" class="tl" text-anchor="middle">0</text>
<text x="663.85" y="338.70" class="tl" text-anchor="middle">50</text>
<text x="732.60" y="338.70" class="tl" text-anchor="middle">100</text>
<text x="801.35" y="338.70" class="tl" text-anchor="middle">150</text>
<text x="870.10" y="338.70" class="tl" text-anchor="middle">200</text>
<text x="938.85" y="338.70" class="tl" text-anchor="middle">250</text>
<text x="1007.60" y="338.70" class="tl" text-anchor="middle">300</text>
<path d="M924.60,42.20H956.60" stroke="#202020" stroke-width="2.2" stroke-dasharray="4 3.00"/>
<text x="963.60" y="46.90" style="font-size:15.2px;stroke-width:0.2px">B</text>
<path d="M926.00,61.20H953.01" stroke="#333" stroke-width="2.5" stroke-dasharray="0 9.0" stroke-linecap="round"/>
<text x="963.60" y="65.90" style="font-size:15.2px;stroke-width:0.2px">D</text>
<path d="M925.10,79.50H959.90" stroke="#202020" stroke-width="2"/>
<text x="963.60" y="84.20" style="font-size:15.2px;stroke-width:0.2px">E</text>
<text x="800.90" y="374.30" class="tt" text-anchor="middle" textLength="188.0" lengthAdjust="spacing">Fiber length (μm)</text>
<text transform="translate(536.10,170.50) rotate(-90)" class="tt2" text-anchor="middle" textLength="80.8" lengthAdjust="spacing">Density</text>
<rect x="898.4" y="156.7" width="56.8" height="41.1" fill="#fff" stroke="#111" stroke-width="2.2"/>
<text x="925.3" y="186.5" class="bt" text-anchor="middle">b)</text>
<path d="M 352.15,697.50 L 353.53,414.30 L 353.87,413.78 L 354.21,413.88 L 354.56,414.42 L 354.90,415.28 L 355.24,416.39 L 355.59,417.69 L 355.93,419.14 L 356.28,420.72 L 356.62,422.41 L 356.96,424.18 L 357.31,426.02 L 357.65,427.92 L 357.99,429.88 L 358.34,431.87 L 358.68,433.91 L 359.03,435.97 L 359.37,438.06 L 359.71,440.17 L 360.06,442.29 L 360.40,444.43 L 360.74,446.58 L 361.09,448.74 L 361.43,450.91 L 361.78,453.08 L 362.12,455.25 L 362.46,457.42 L 362.81,459.59 L 363.15,461.76 L 363.49,463.92 L 363.84,466.08 L 364.18,468.24 L 364.53,470.39 L 364.87,472.53 L 365.21,474.66 L 365.56,476.78 L 365.90,478.90 L 367.28,487.25 L 368.65,495.42 L 370.03,503.37 L 371.40,511.11 L 372.78,518.62 L 374.15,525.89 L 375.53,532.93 L 376.90,539.72 L 378.28,546.29 L 379.65,552.61 L 381.03,558.71 L 382.40,564.59 L 383.78,570.24 L 385.15,575.68 L 386.53,580.91 L 387.90,585.93 L 389.28,590.75 L 390.65,595.39 L 392.03,599.84 L 393.40,604.10 L 394.78,608.20 L 396.15,612.12 L 397.53,615.89 L 398.90,619.49 L 400.28,622.95 L 401.65,626.26 L 403.03,629.44 L 404.40,632.47 L 405.78,635.38 L 407.15,638.17 L 408.53,640.83 L 409.90,643.38 L 411.28,645.82 L 412.65,648.16 L 414.03,650.39 L 415.40,652.53 L 416.78,654.57 L 418.15,656.52 L 419.53,658.39 L 420.90,660.17 L 422.28,661.88 L 423.65,663.51 L 425.03,665.07 L 426.40,666.55 L 427.78,667.98 L 429.15,669.33 L 430.53,670.63 L 431.90,671.87 L 433.28,673.05 L 434.65,674.19 L 436.03,675.26 L 437.40,676.30 L 438.78,677.28 L 440.15,678.22 L 441.53,679.12 L 442.90,679.97 L 444.28,680.79 L 445.65,681.57 L 447.02,682.31 L 448.40,683.02 L 449.78,683.70 L 451.15,684.35 L 452.53,684.96 L 453.90,685.55 L 455.28,686.11 L 456.65,686.65 L 458.02,687.16 L 459.40,687.64 L 460.78,688.11 L 462.15,688.55 L 463.53,688.97 L 464.90,689.38 L 466.28,689.76 L 467.65,690.13 L 469.03,690.48 L 470.40,690.81 L 471.78,691.13 L 473.15,691.43 L 474.53,691.72 L 475.90,691.99 L 477.28,692.25 L 478.65,692.50 L 480.03,692.74 L 481.40,692.97 L 482.78,693.19 L 484.15,693.39 L 485.53,693.59 L 486.90,693.77 L 488.28,693.95 L 489.65,694.12 L 491.03,694.28 L 492.40,694.44 L 493.78,694.58 L 495.15,694.72 L 496.53,694.86 L 497.90,694.98 L 499.28,695.11 L 500.65,695.22 L 502.03,695.33 L 503.40,695.43 L 504.78,695.53 L 506.15,695.63 L 507.53,695.72 L 508.90,695.81 L 510.28,695.89 L 511.65,695.96 L 513.03,696.04 L 514.40,696.11 L 515.78,696.18 L 517.15,696.24 L 518.53,696.30 L 519.90,696.36 L 521.28,696.42 L 522.65,696.47 L 524.03,696.52 L 525.40,696.57 L 526.78,696.61 L 528.15,696.65 L 529.53,696.70 L 530.90,696.73 L 532.28,696.77 L 533.65,696.81 L 535.03,696.84 L 536.40,696.87 L 537.78,696.90 L 539.15,696.93 L 540.53,696.96 L 541.90,696.99 L 543.28,697.01 L 544.65,697.04 L 546.03,697.06 L 547.40,697.08 L 548.78,697.10 L 550.15,697.12 L 551.53,697.14 L 552.90,697.16 L 554.28,697.17 L 555.65,697.19 L 557.03,697.20 L 558.40,697.22 L 559.77,697.23 L 561.15,697.25 L 562.53,697.26 L 563.90,697.27 L 565.28,697.28 L 566.65,697.29 L 568.03,697.30 L 569.40,697.31 L 570.78,697.32 L 572.15,697.33 L 573.52,697.34 L 574.90,697.35 L 576.28,697.35 L 577.65,697.36 L 579.03,697.37 L 580.40,697.37 L 581.78,697.38 L 583.15,697.39 L 584.53,697.39 L 585.90,697.40 L 587.28,697.40 L 588.65,697.41 L 590.03,697.41 L 591.40,697.42 L 592.78,697.42 L 594.15,697.42 L 595.53,697.43 L 596.90,697.43 L 598.28,697.44 L 599.65,697.44 L 601.03,697.44 L 602.40,697.44 L 603.78,697.45 L 605.15,697.45 L 606.53,697.45 L 607.90,697.45 L 609.28,697.46 L 610.65,697.46 L 612.03,697.46 L 613.40,697.46 L 614.78,697.46 L 616.15,697.47 L 617.53,697.47 L 618.90,697.47 L 620.28,697.47 L 621.65,697.47 L 623.03,697.47 L 624.40,697.48 L 625.78,697.48 L 627.15,697.48 L 628.53,697.48 L 629.90,697.48 L 631.28,697.48 L 632.65,697.48 L 634.03,697.48 L 635.40,697.48 L 636.78,697.48 L 638.15,697.49 L 639.53,697.49 L 640.90,697.49 L 642.28,697.49 L 643.65,697.49 L 645.03,697.49 L 646.40,697.49 L 647.78,697.49 L 649.15,697.49 L 650.53,697.49 L 651.90,697.49 L 653.28,697.49 L 654.65,697.49 L 656.03,697.49 L 657.40,697.49 L 658.78,697.49 L 660.15,697.49 L 661.53,697.49 L 662.90,697.49 L 664.28,697.49 L 665.65,697.49 L 667.03,697.49 L 668.40,697.50 L 669.78,697.50 L 671.15,697.50 L 672.53,697.50 L 673.90,697.50 L 675.28,697.50 L 676.65,697.50 L 678.03,697.50 L 679.40,697.50 L 680.78,697.50 L 682.15,697.50 L 683.53,697.50 L 684.90,697.50 L 686.28,697.50 L 687.65,697.50 L 689.03,697.50 L 690.40,697.50 L 691.78,697.50 L 693.15,697.50 L 694.53,697.50 L 695.90,697.50 L 697.28,697.50 L 698.65,697.50 L 700.03,697.50 L 701.40,697.50 L 702.78,697.50 L 704.15,697.50 L 705.53,697.50 L 706.90,697.50 L 708.28,697.50 L 709.65,697.50 L 711.03,697.50 L 712.40,697.50 L 713.78,697.50 L 715.15,697.50 L 716.53,697.50 L 717.90,697.50 L 719.28,697.50 L 720.65,697.50 L 722.03,697.50 L 723.40,697.50 L 724.78,697.50 L 726.15,697.50 L 727.53,697.50 L 728.90,697.50 L 730.28,697.50 L 731.65,697.50 L 733.03,697.50 L 734.40,697.50 L 735.78,697.50 L 737.15,697.50 L 738.53,697.50 L 739.90,697.50 L 741.28,697.50 L 742.65,697.50 L 744.03,697.50 L 745.40,697.50 L 746.78,697.50 L 748.15,697.50 L 749.53,697.50 L 750.90,697.50" fill="none" stroke="#333" stroke-width="2.6" stroke-dasharray="0 9" stroke-linecap="round" stroke-dashoffset="-4.82"/>
<path d="M 352.15,697.50 L 353.53,491.22 L 353.87,487.45 L 354.21,484.54 L 354.56,482.27 L 354.90,480.48 L 355.24,479.08 L 355.59,478.00 L 355.93,477.19 L 356.28,476.61 L 356.62,476.22 L 356.96,476.00 L 357.31,475.93 L 357.65,476.00 L 357.99,476.18 L 358.34,476.46 L 358.68,476.84 L 359.03,477.31 L 359.37,477.85 L 359.71,478.46 L 360.06,479.13 L 360.40,479.87 L 360.74,480.65 L 361.09,481.49 L 361.43,482.37 L 361.78,483.29 L 362.12,484.25 L 362.46,485.24 L 362.81,486.27 L 363.15,487.32 L 363.49,488.41 L 363.84,489.51 L 364.18,490.65 L 364.53,491.80 L 364.87,492.97 L 365.21,494.16 L 365.56,495.37 L 365.90,496.59 L 367.28,501.61 L 368.65,506.78 L 370.03,512.05 L 371.40,517.38 L 372.78,522.73 L 374.15,528.06 L 375.53,533.37 L 376.90,538.63 L 378.28,543.82 L 379.65,548.94 L 381.03,553.96 L 382.40,558.90 L 383.78,563.72 L 385.15,568.44 L 386.53,573.05 L 387.90,577.55 L 389.28,581.92 L 390.65,586.18 L 392.03,590.32 L 393.40,594.34 L 394.78,598.24 L 396.15,602.02 L 397.53,605.69 L 398.90,609.24 L 400.28,612.68 L 401.65,616.00 L 403.03,619.21 L 404.40,622.32 L 405.78,625.32 L 407.15,628.21 L 408.53,631.01 L 409.90,633.70 L 411.28,636.30 L 412.65,638.80 L 414.03,641.22 L 415.40,643.54 L 416.78,645.78 L 418.15,647.93 L 419.53,650.00 L 420.90,651.99 L 422.28,653.91 L 423.65,655.75 L 425.03,657.53 L 426.40,659.23 L 427.78,660.86 L 429.15,662.43 L 430.53,663.94 L 431.90,665.39 L 433.28,666.78 L 434.65,668.11 L 436.03,669.39 L 437.40,670.62 L 438.78,671.80 L 440.15,672.93 L 441.53,674.01 L 442.90,675.05 L 444.28,676.04 L 445.65,676.99 L 447.02,677.90 L 448.40,678.78 L 449.78,679.62 L 451.15,680.42 L 452.53,681.18 L 453.90,681.92 L 455.28,682.62 L 456.65,683.29 L 458.02,683.94 L 459.40,684.55 L 460.78,685.14 L 462.15,685.71 L 463.53,686.25 L 464.90,686.76 L 466.28,687.25 L 467.65,687.73 L 469.03,688.18 L 470.40,688.61 L 471.78,689.02 L 473.15,689.41 L 474.53,689.78 L 475.90,690.14 L 477.28,690.49 L 478.65,690.81 L 480.03,691.13 L 481.40,691.42 L 482.78,691.71 L 484.15,691.98 L 485.53,692.24 L 486.90,692.49 L 488.28,692.72 L 489.65,692.95 L 491.03,693.17 L 492.40,693.37 L 493.78,693.57 L 495.15,693.75 L 496.53,693.93 L 497.90,694.10 L 499.28,694.26 L 500.65,694.42 L 502.03,694.57 L 503.40,694.71 L 504.78,694.84 L 506.15,694.97 L 507.53,695.09 L 508.90,695.21 L 510.28,695.32 L 511.65,695.42 L 513.03,695.52 L 514.40,695.62 L 515.78,695.71 L 517.15,695.80 L 518.53,695.88 L 519.90,695.96 L 521.28,696.03 L 522.65,696.11 L 524.03,696.17 L 525.40,696.24 L 526.78,696.30 L 528.15,696.36 L 529.53,696.42 L 530.90,696.47 L 532.28,696.52 L 533.65,696.57 L 535.03,696.61 L 536.40,696.66 L 537.78,696.70 L 539.15,696.74 L 540.53,696.78 L 541.90,696.81 L 543.28,696.85 L 544.65,696.88 L 546.03,696.91 L 547.40,696.94 L 548.78,696.97 L 550.15,696.99 L 551.53,697.02 L 552.90,697.04 L 554.28,697.07 L 555.65,697.09 L 557.03,697.11 L 558.40,697.13 L 559.77,697.15 L 561.15,697.16 L 562.53,697.18 L 563.90,697.20 L 565.28,697.21 L 566.65,697.23 L 568.03,697.24 L 569.40,697.25 L 570.78,697.27 L 572.15,697.28 L 573.52,697.29 L 574.90,697.30 L 576.28,697.31 L 577.65,697.32 L 579.03,697.33 L 580.40,697.34 L 581.78,697.35 L 583.15,697.35 L 584.53,697.36 L 585.90,697.37 L 587.28,697.38 L 588.65,697.38 L 590.03,697.39 L 591.40,697.39 L 592.78,697.40 L 594.15,697.40 L 595.53,697.41 L 596.90,697.41 L 598.28,697.42 L 599.65,697.42 L 601.03,697.43 L 602.40,697.43 L 603.78,697.43 L 605.15,697.44 L 606.53,697.44 L 607.90,697.44 L 609.28,697.45 L 610.65,697.45 L 612.03,697.45 L 613.40,697.45 L 614.78,697.46 L 616.15,697.46 L 617.53,697.46 L 618.90,697.46 L 620.28,697.47 L 621.65,697.47 L 623.03,697.47 L 624.40,697.47 L 625.78,697.47 L 627.15,697.47 L 628.53,697.47 L 629.90,697.48 L 631.28,697.48 L 632.65,697.48 L 634.03,697.48 L 635.40,697.48 L 636.78,697.48 L 638.15,697.48 L 639.53,697.48 L 640.90,697.48 L 642.28,697.49 L 643.65,697.49 L 645.03,697.49 L 646.40,697.49 L 647.78,697.49 L 649.15,697.49 L 650.53,697.49 L 651.90,697.49 L 653.28,697.49 L 654.65,697.49 L 656.03,697.49 L 657.40,697.49 L 658.78,697.49 L 660.15,697.49 L 661.53,697.49 L 662.90,697.49 L 664.28,697.49 L 665.65,697.49 L 667.03,697.49 L 668.40,697.49 L 669.78,697.50 L 671.15,697.50 L 672.53,697.50 L 673.90,697.50 L 675.28,697.50 L 676.65,697.50 L 678.03,697.50 L 679.40,697.50 L 680.78,697.50 L 682.15,697.50 L 683.53,697.50 L 684.90,697.50 L 686.28,697.50 L 687.65,697.50 L 689.03,697.50 L 690.40,697.50 L 691.78,697.50 L 693.15,697.50 L 694.53,697.50 L 695.90,697.50 L 697.28,697.50 L 698.65,697.50 L 700.03,697.50 L 701.40,697.50 L 702.78,697.50 L 704.15,697.50 L 705.53,697.50 L 706.90,697.50 L 708.28,697.50 L 709.65,697.50 L 711.03,697.50 L 712.40,697.50 L 713.78,697.50 L 715.15,697.50 L 716.53,697.50 L 717.90,697.50 L 719.28,697.50 L 720.65,697.50 L 722.03,697.50 L 723.40,697.50 L 724.78,697.50 L 726.15,697.50 L 727.53,697.50 L 728.90,697.50 L 730.28,697.50 L 731.65,697.50 L 733.03,697.50 L 734.40,697.50 L 735.78,697.50 L 737.15,697.50 L 738.53,697.50 L 739.90,697.50 L 741.28,697.50 L 742.65,697.50 L 744.03,697.50 L 745.40,697.50 L 746.78,697.50 L 748.15,697.50 L 749.53,697.50 L 750.90,697.50" fill="none" stroke="#202020" stroke-width="2.2" stroke-dasharray="4 3.2"/>
<path d="M338.40,697.50v-6.5M338.40,395.00v6.5M372.78,697.50v-3.5M372.78,395.00v3.5M407.15,697.50v-6.5M407.15,395.00v6.5M441.53,697.50v-3.5M441.53,395.00v3.5M475.90,697.50v-6.5M475.90,395.00v6.5M510.28,697.50v-3.5M510.28,395.00v3.5M544.65,697.50v-6.5M544.65,395.00v6.5M579.03,697.50v-3.5M579.03,395.00v3.5M613.40,697.50v-6.5M613.40,395.00v6.5M647.78,697.50v-3.5M647.78,395.00v3.5M682.15,697.50v-6.5M682.15,395.00v6.5M716.53,697.50v-3.5M716.53,395.00v3.5M750.90,697.50v-6.5M750.90,395.00v6.5M338.40,697.50h6.5M750.90,697.50h-6.5M338.40,659.69h3.5M750.90,659.69h-3.5M338.40,621.88h6.5M750.90,621.88h-6.5M338.40,584.06h3.5M750.90,584.06h-3.5M338.40,546.25h6.5M750.90,546.25h-6.5M338.40,508.44h3.5M750.90,508.44h-3.5M338.40,470.62h6.5M750.90,470.62h-6.5M338.40,432.81h3.5M750.90,432.81h-3.5M338.40,395.00h6.5M750.90,395.00h-6.5" stroke="#4a4a4a" stroke-width="1.8" fill="none"/>
<rect x="338.40" y="395.00" width="412.50" height="302.50" fill="none" stroke="#4a4a4a" stroke-width="2"/>
<text x="331.40" y="702.50" class="tl" text-anchor="end">0.00</text>
<text x="331.40" y="626.88" class="tl" text-anchor="end">0.01</text>
<text x="331.40" y="551.25" class="tl" text-anchor="end">0.02</text>
<text x="331.40" y="475.62" class="tl" text-anchor="end">0.03</text>
<text x="331.40" y="400.00" class="tl" text-anchor="end">0.04</text>
<text x="338.40" y="718.00" class="tl" text-anchor="middle">0</text>
<text x="407.15" y="718.00" class="tl" text-anchor="middle">50</text>
<text x="475.90" y="718.00" class="tl" text-anchor="middle">100</text>
<text x="544.65" y="718.00" class="tl" text-anchor="middle">150</text>
<text x="613.40" y="718.00" class="tl" text-anchor="middle">200</text>
<text x="682.15" y="718.00" class="tl" text-anchor="middle">250</text>
<text x="750.90" y="718.00" class="tl" text-anchor="middle">300</text>
<path d="M668.70,420.80H700.50" stroke="#202020" stroke-width="2.2" stroke-dasharray="4 2.95"/>
<text x="707.60" y="426.00" style="font-size:15.2px;stroke-width:0.2px">B</text>
<path d="M670.30,439.00H697.31" stroke="#333" stroke-width="2.5" stroke-dasharray="0 9.0" stroke-linecap="round"/>
<text x="707.60" y="444.20" style="font-size:15.2px;stroke-width:0.2px">F</text>
<text x="544.80" y="754.00" class="tt" text-anchor="middle" textLength="188.0" lengthAdjust="spacing">Fiber length (μm)</text>
<text transform="translate(280.00,549.60) rotate(-90)" class="tt2" text-anchor="middle" textLength="80.8" lengthAdjust="spacing">Density</text>
<rect x="642.1" y="536.1" width="56.9" height="41.3" fill="#fff" stroke="#111" stroke-width="2.2"/>
<text x="670.0" y="565.8" class="bt" text-anchor="middle">c)</text>
</svg>
</body></html>
